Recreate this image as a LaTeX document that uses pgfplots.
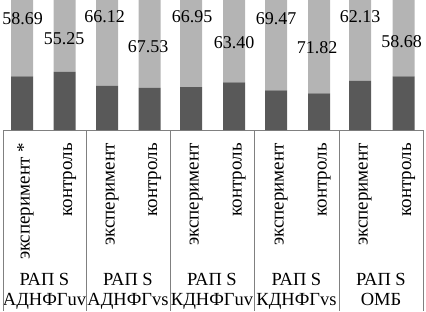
\documentclass[border=0pt]{standalone}
\usepackage{pgfplots}
\pgfplotsset{compat=1.18}
\usepackage{pgfplotstable}
\usepackage{fontspec}
\setmainfont{Liberation Serif}
\definecolor{darkbar}{RGB}{89,89,89}
\definecolor{lightbar}{RGB}{180,180,180}
\definecolor{sepgray}{RGB}{128,128,128}
\pgfplotstableread{
x dark light
22 41.31 58.69
64.5 44.75 55.25
107 33.88 66.12
149.5 32.47 67.53
191 33.05 66.95
234 36.60 63.40
276 30.53 69.47
319 28.18 71.82
360 37.87 62.13
403.5 41.32 58.68
}\bartable
\begin{document}
\begin{tikzpicture}
\begin{axis}[
  scale only axis, width=420pt, height=130pt,
  xmin=3, xmax=423, ymin=0, ymax=100,
  axis x line*=bottom, axis y line=none,
  x axis line style={sepgray},
  ybar stacked, bar width=22pt,
  xtick={22,64.5,107,149.5,191,234,276,319,360,403.5},
  xticklabels={эксперимент *, контроль, эксперимент, контроль, эксперимент, контроль, эксперимент, контроль, эксперимент, контроль},
  major tick length=0pt,
  x tick label style={xshift=7.5pt, rotate=90, anchor=base east, inner sep=0pt, font=\fontsize{19}{21}\selectfont},
  xticklabel shift=13pt,
  clip=false,
]
\addplot[fill=darkbar, draw=none] table[x=x, y=dark] {\bartable};
\addplot[fill=lightbar, draw=none] table[x=x, y=light] {\bartable};

\path (axis cs:0,100) -- (axis cs:426,100);

\coordinate (v1) at (axis cs:22.5,85.8);
\coordinate (v2) at (axis cs:64,70.4);
\coordinate (v3) at (axis cs:104.5,87.3);
\coordinate (v4) at (axis cs:148,64.2);
\coordinate (v5) at (axis cs:192,87.3);
\coordinate (v6) at (axis cs:234,66.9);
\coordinate (v7) at (axis cs:276,85.8);
\coordinate (v8) at (axis cs:317,63.5);
\coordinate (v9) at (axis cs:360,87.3);
\coordinate (v10) at (axis cs:401.5,68.1);

\draw[sepgray] (axis cs:3,0) -- ++(0pt,-181pt);
\draw[sepgray] (axis cs:86,0) -- ++(0pt,-181pt);
\draw[sepgray] (axis cs:170,0) -- ++(0pt,-181pt);
\draw[sepgray] (axis cs:254,0) -- ++(0pt,-181pt);
\draw[sepgray] (axis cs:339,0) -- ++(0pt,-181pt);
\draw[sepgray] (axis cs:423,0) -- ++(0pt,-181pt);

\node[font=\fontsize{18.5}{20}\selectfont, inner sep=0pt, anchor=base, yshift=-155pt] at (axis cs:44.5,0) {РАП S};
\node[font=\fontsize{18.5}{20}\selectfont, inner sep=0pt, anchor=base, yshift=-175pt] at (axis cs:44.5,0) {АДНФГuv};
\node[font=\fontsize{18.5}{20}\selectfont, inner sep=0pt, anchor=base, yshift=-155pt] at (axis cs:128,0) {РАП S};
\node[font=\fontsize{18.5}{20}\selectfont, inner sep=0pt, anchor=base, yshift=-175pt] at (axis cs:128,0) {АДНФГvs};
\node[font=\fontsize{18.5}{20}\selectfont, inner sep=0pt, anchor=base, yshift=-155pt] at (axis cs:212,0) {РАП S};
\node[font=\fontsize{18.5}{20}\selectfont, inner sep=0pt, anchor=base, yshift=-175pt] at (axis cs:212,0) {КДНФГuv};
\node[font=\fontsize{18.5}{20}\selectfont, inner sep=0pt, anchor=base, yshift=-155pt] at (axis cs:296.5,0) {РАП S};
\node[font=\fontsize{18.5}{20}\selectfont, inner sep=0pt, anchor=base, yshift=-175pt] at (axis cs:296.5,0) {КДНФГvs};
\node[font=\fontsize{18.5}{20}\selectfont, inner sep=0pt, anchor=base, yshift=-155pt] at (axis cs:381,0) {РАП S};
\node[font=\fontsize{18.5}{20}\selectfont, inner sep=0pt, anchor=base, yshift=-175pt] at (axis cs:381,0) {ОМБ};
\end{axis}
\begin{scope}[every node/.style={font=\fontsize{18}{20}\selectfont, inner sep=0pt}]
\node at (v1) {58.69};
\node at (v2) {55.25};
\node at (v3) {66.12};
\node at (v4) {67.53};
\node at (v5) {66.95};
\node at (v6) {63.40};
\node at (v7) {69.47};
\node at (v8) {71.82};
\node at (v9) {62.13};
\node at (v10) {58.68};
\end{scope}
\end{tikzpicture}
\end{document}
